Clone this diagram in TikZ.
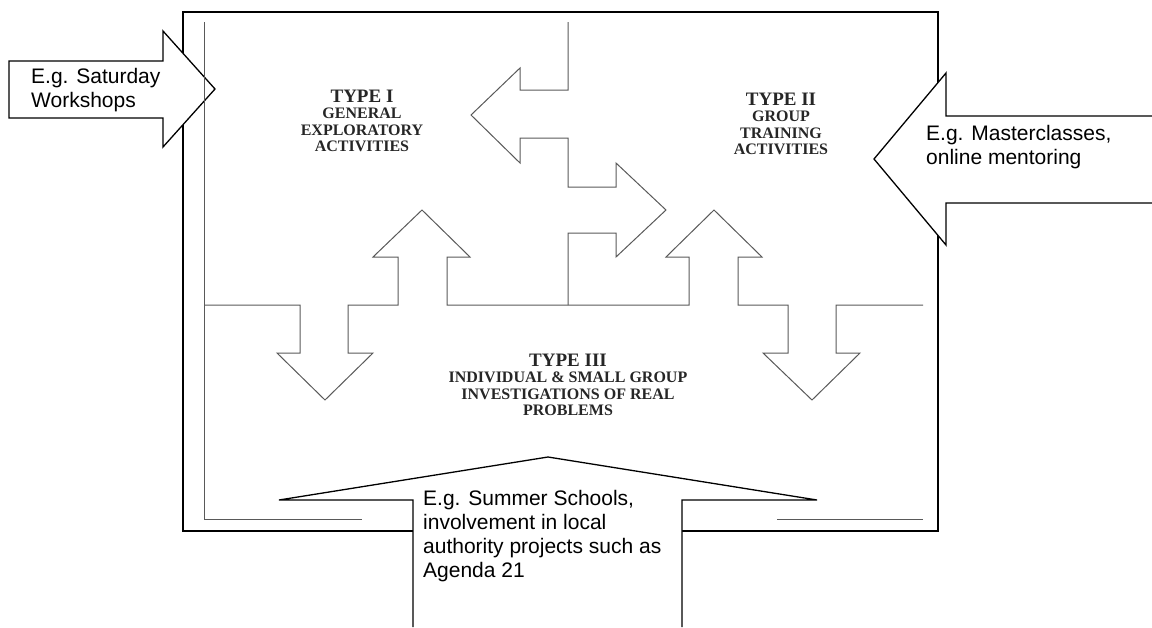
\documentclass[tikz,border=0pt]{standalone}
\usepackage{fontspec}
\setmainfont{Liberation Sans}
\newfontfamily\typefont{Liberation Serif}
\usetikzlibrary{positioning}

\begin{document}
\begin{tikzpicture}[
    x=1pt, y=-1pt,
    frame_line/.style={draw=black, line width=1.3pt},
    callout/.style={draw=black, fill=white, line width=1.3pt, line join=miter},
    inner_line/.style={draw=gray!70!black, line width=1pt},
    callout_text/.style={anchor=west, align=left, inner sep=0pt, font=\fontsize{21}{24}\selectfont},
    type_text/.style={align=center, inner sep=0pt, text=black!85, font=\typefont\bfseries\fontsize{16}{16.5}\selectfont}
]
\useasboundingbox (0,0) rectangle (1152,627);

% Marco
\draw[frame_line] (183,12) rectangle (938,531);

% Flechas de los ejemplos
\draw[callout] (9,61) -- (163,61) -- (163,31) -- (215,89) -- (163,147) -- (163,118) -- (9,118) -- cycle;
\draw[callout] (1152,116) -- (946,116) -- (946,73) -- (874,159) -- (946,245) -- (946,203) -- (1152,203);
\draw[callout] (413,627) -- (413,500) -- (279,500) -- (548,457) -- (817,500) -- (682,500) -- (682,627);

% Modelo de tres tipos
\draw[inner_line] (204,22) -- (204,519) -- (362,519);
\draw[inner_line] (777,519) -- (923,519);
\draw[inner_line] (204,305) -- (300,305) -- (300,353) -- (277,353) -- (325,400) -- (373,353) -- (348,353) -- (348,305)
    -- (398,305) -- (398,257) -- (373,257) -- (422,210) -- (470,257) -- (447,257) -- (447,305)
    -- (689,305) -- (689,257) -- (666,257) -- (714,210) -- (762,257) -- (738,257) -- (738,305)
    -- (788,305) -- (788,353) -- (763,353) -- (812,400) -- (860,353) -- (836,353) -- (836,305) -- (923,305);
\draw[inner_line] (568,22) -- (568,90) -- (520,90) -- (520,68) -- (471,115) -- (520,163) -- (520,138) -- (568,138)
    -- (568,187) -- (616,187) -- (616,163) -- (666,210) -- (616,257) -- (616,233) -- (568,233) -- (568,305);

% Tipos
\node[type_text] (type1) at (362,121) {{\fontsize{19}{18}\selectfont TYPE I}\\GENERAL\\EXPLORATORY\\ACTIVITIES};
\node[type_text] (type2) at (781,124) {{\fontsize{19}{18}\selectfont TYPE II}\\GROUP\\TRAINING\\ACTIVITIES};
\node[type_text] (type3) at (568,385) {{\fontsize{19}{18}\selectfont TYPE III}\\INDIVIDUAL \& SMALL GROUP\\INVESTIGATIONS OF REAL\\PROBLEMS};

% Textos de los ejemplos
\node[callout_text] (saturday) at (31,90) {E.g. Saturday\\Workshops};
\node[callout_text] (masterclasses) at (926,147) {E.g. Masterclasses,\\online mentoring};
\node[callout_text] (summer) at (423,536) {E.g. Summer Schools,\\involvement in local\\authority projects such as\\Agenda 21};

\end{tikzpicture}
\end{document}
